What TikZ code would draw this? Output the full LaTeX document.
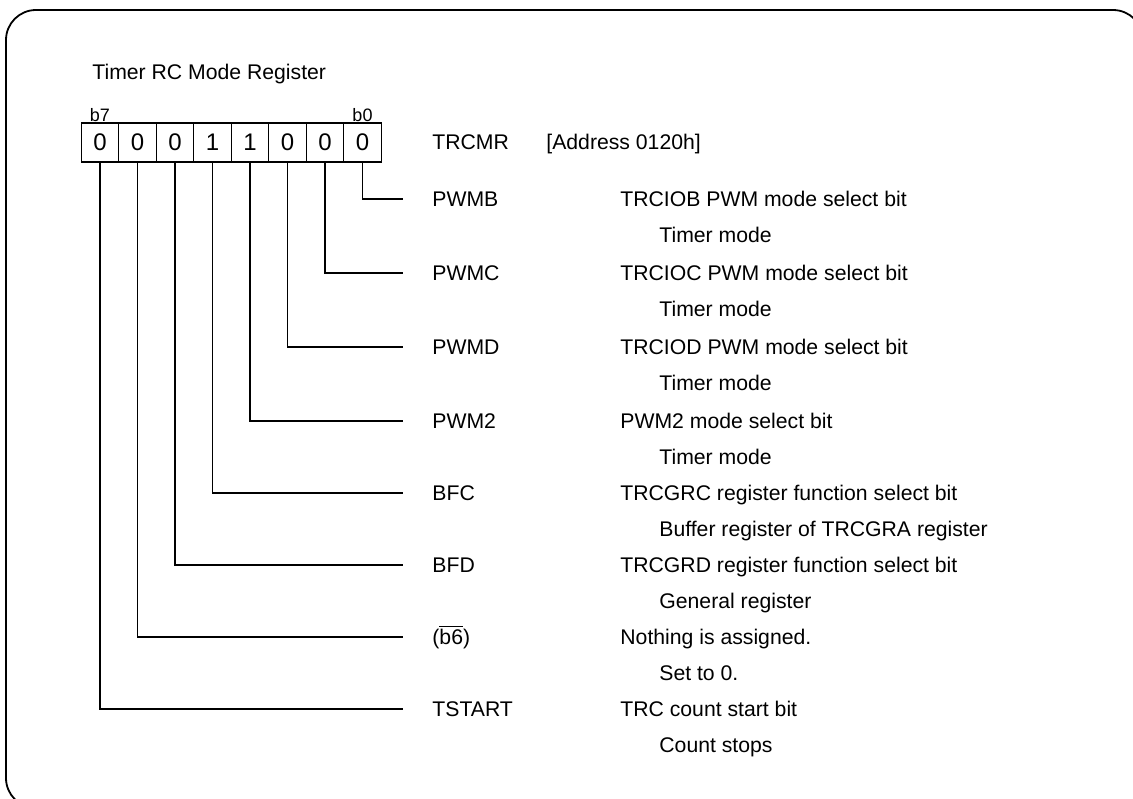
\documentclass[tikz,border=0pt]{standalone}
\usepackage{fontspec}
\setmainfont{Liberation Sans}
\usetikzlibrary{positioning}

\begin{document}
\begin{tikzpicture}[
    x=0.5pt, y=-0.5pt,
    bitcell/.style={
        rectangle,
        draw=black,
        line width=0.7pt,
        minimum width=18.75pt,
        minimum height=19.5pt,
        inner sep=0pt,
        outer sep=0pt,
        font=\fontsize{12}{14}\selectfont
    },
    bitnum/.style={
        inner sep=0.5pt,
        font=\fontsize{9}{10}\selectfont
    },
    txt/.style={
        anchor=west,
        inner xsep=0pt,
        inner ysep=0pt,
        text height=0.72em,
        text depth=0pt,
        font=\fontsize{10.6}{12}\selectfont
    },
    field/.style={
        txt,
        inner xsep=14.5pt
    },
    wire/.style={
        line width=0.7pt,
        draw=black
    }
]
\clip (0,0) rectangle (1133,798);
\useasboundingbox (0,0) rectangle (1133,798);

% Outer frame
\draw[line width=0.9pt, rounded corners=15pt] (6,10) rectangle (1143,808);

% Title
\node[txt] (title) at (92,72) {Timer RC Mode Register};

% Register bits
\node[bitcell] (b7) at (100,142.5) {0};
\node[bitcell, right=0pt of b7] (b6) {0};
\node[bitcell, right=0pt of b6] (b5) {0};
\node[bitcell, right=0pt of b5] (b4) {1};
\node[bitcell, right=0pt of b4] (b3) {1};
\node[bitcell, right=0pt of b3] (b2) {0};
\node[bitcell, right=0pt of b2] (b1) {0};
\node[bitcell, right=0pt of b1] (b0) {0};

\node[bitnum, above=0pt of b7] (lbl7) {b7};
\node[bitnum, above=0pt of b0] (lbl0) {b0};

% Register name and address
\node[txt] (name) at (432,142.5) {TRCMR};
\node[txt] (addr) at (546,142.5) {[Address 0120h]};

% Bit symbols
\node[field] (pwmb) at (403,199) {PWMB};
\node[field] (pwmc) at (403,273) {PWMC};
\node[field] (pwmd) at (403,347) {PWMD};
\node[field] (pwmtwo) at (403,421) {PWM2};
\node[field] (bfc) at (403,493) {BFC};
\node[field] (bfd) at (403,565) {BFD};
\node[field] (nobit) at (403,637) {(\(\overline{\mbox{b6}}\))};
\node[field] (tstart) at (403,709) {TSTART};

% Bit descriptions
\node[txt] (pwmb-d) at (620,199) {TRCIOB PWM mode select bit};
\node[txt] (pwmb-v) at (659,235) {Timer mode};
\node[txt] (pwmc-d) at (620,273) {TRCIOC PWM mode select bit};
\node[txt] (pwmc-v) at (659,309) {Timer mode};
\node[txt] (pwmd-d) at (620,347) {TRCIOD PWM mode select bit};
\node[txt] (pwmd-v) at (659,383) {Timer mode};
\node[txt] (pwmtwo-d) at (620,421) {PWM2 mode select bit};
\node[txt] (pwmtwo-v) at (659,457) {Timer mode};
\node[txt] (bfc-d) at (620,493) {TRCGRC register function select bit};
\node[txt] (bfc-v) at (659,529) {Buffer register of TRCGRA register};
\node[txt] (bfd-d) at (620,565) {TRCGRD register function select bit};
\node[txt] (bfd-v) at (659,601) {General register};
\node[txt] (nobit-d) at (620,637) {Nothing is assigned.};
\node[txt] (nobit-v) at (659,673) {Set to 0.};
\node[txt] (tstart-d) at (620,709) {TRC count start bit};
\node[txt] (tstart-v) at (659,745) {Count stops};

% Bit lines
\draw[wire] (b0.south) |- (pwmb.west);
\draw[wire] (b1.south) |- (pwmc.west);
\draw[wire] (b2.south) |- (pwmd.west);
\draw[wire] (b3.south) |- (pwmtwo.west);
\draw[wire] (b4.south) |- (bfc.west);
\draw[wire] (b5.south) |- (bfd.west);
\draw[wire] (b6.south) |- (nobit.west);
\draw[wire] (b7.south) |- (tstart.west);

\end{tikzpicture}
\end{document}
